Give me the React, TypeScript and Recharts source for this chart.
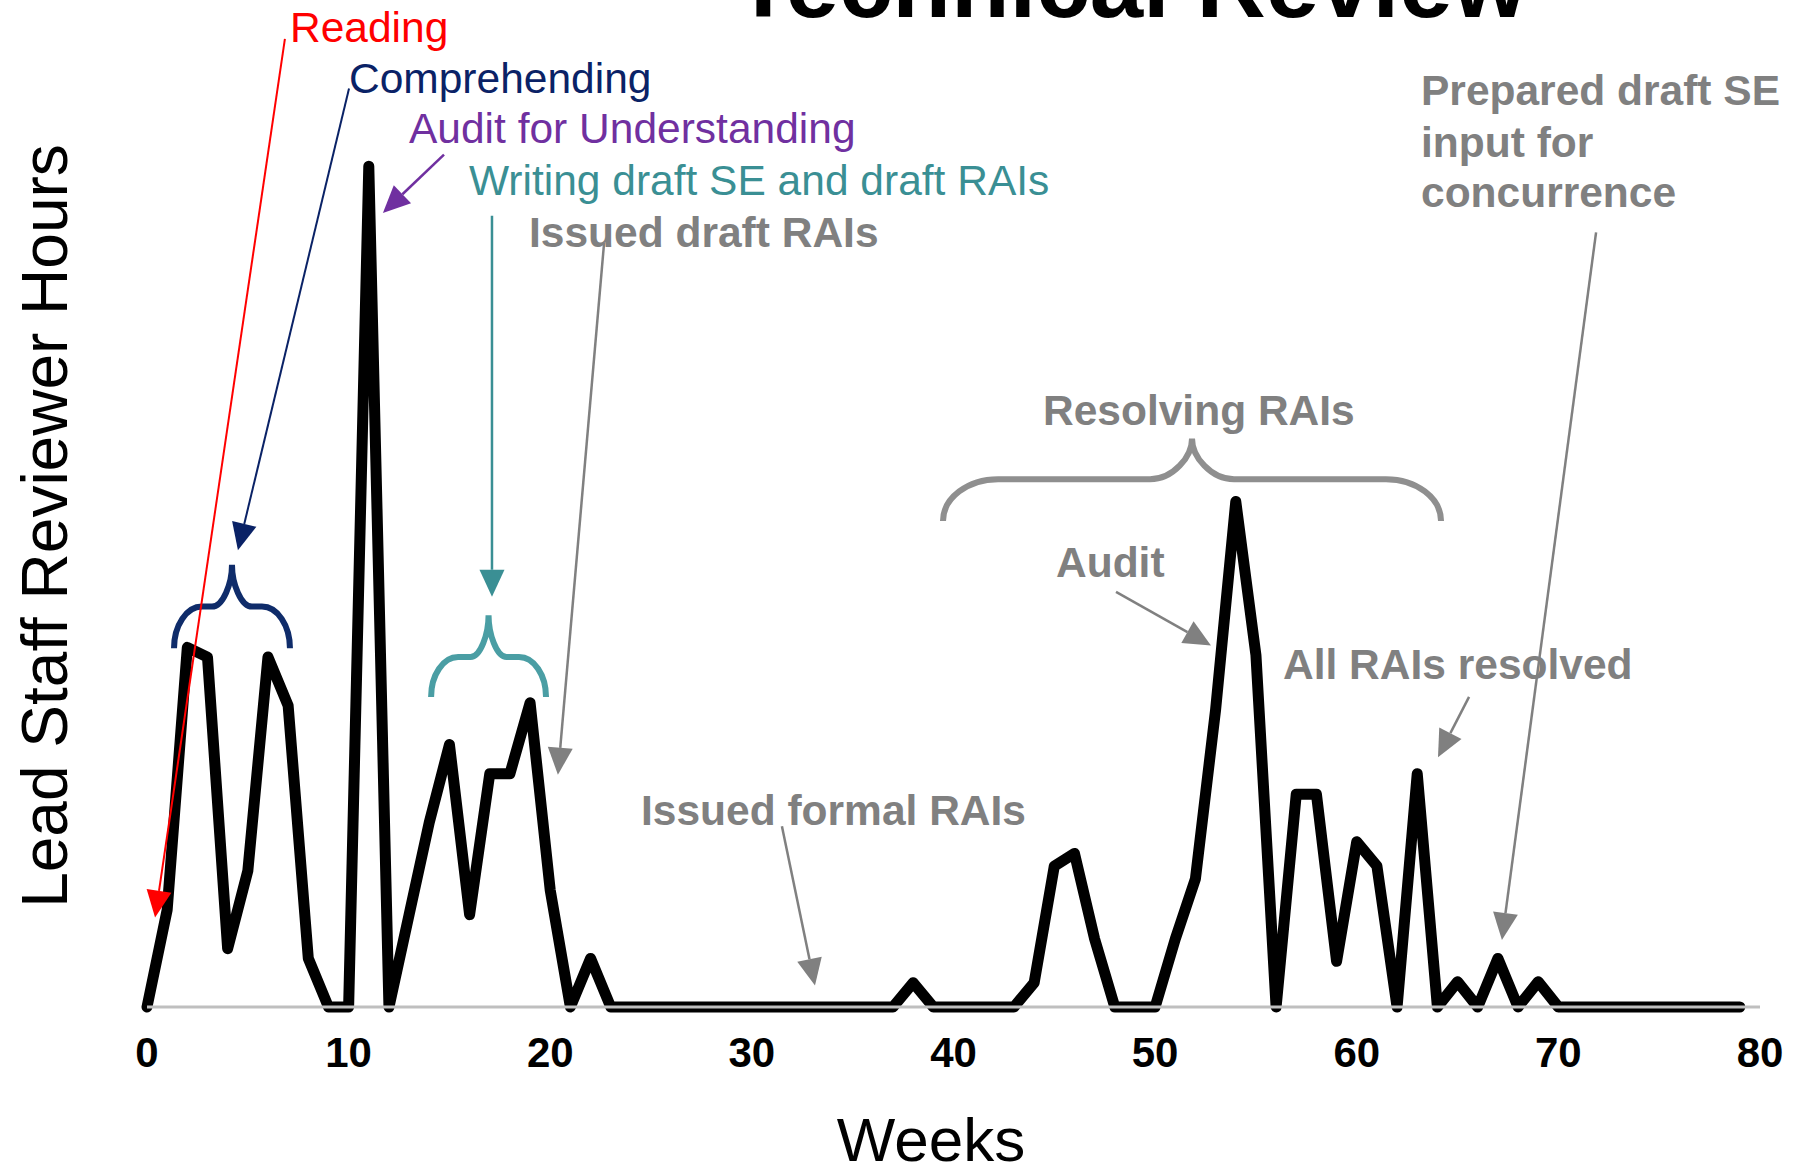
import React from "react";
import { LineChart, Line, XAxis, YAxis } from "recharts";

const weeks = [
  0, 1, 2, 3, 4, 5, 6, 7, 8, 9, 10, 11, 12, 13, 14, 15, 16, 17, 18, 19,
  20, 21, 22, 23, 24, 25, 26, 27, 28, 29, 30, 31, 32, 33, 34, 35, 36, 37, 38, 39,
  40, 41, 42, 43, 44, 45, 46, 47, 48, 49, 50, 51, 52, 53, 54, 55, 56, 57, 58, 59,
  60, 61, 62, 63, 64, 65, 66, 67, 68, 69, 70, 71, 72, 73, 74, 75, 76, 77, 78, 79,
];

const hours = [
  0, 10, 37, 36, 6, 14, 36, 31, 5, 0, 0, 86.5, 0, 9.5, 19, 27, 9.5, 24, 24, 31.3,
  12, 0, 5, 0, 0, 0, 0, 0, 0, 0, 0, 0, 0, 0, 0, 0, 0, 0, 2.5, 0,
  0, 0, 0, 0, 2.5, 14.5, 15.8, 7, 0, 0, 0, 7, 13.2, 30.6, 52, 36.2, 0, 21.9, 21.9, 4.7,
  17, 14.5, 0, 24, 0, 2.6, 0, 5, 0, 2.6, 0, 0, 0, 0, 0, 0, 0, 0, 0, 0,
];

const xTicks = [0, 10, 20, 30, 40, 50, 60, 70, 80];

const data = weeks.map((w, i) => ({ week: w, hours: hours[i] }));

// chart geometry
const W = 1804;
const H = 1171;
const M = { top: 35, right: 44, bottom: 104, left: 147 };
const X_AXIS_H = 60;
const X_MAX = 80;
const Y_MAX = 100;
const plotL = M.left;
const plotR = W - M.right;
const plotT = M.top;
const plotB = H - M.bottom - X_AXIS_H;

const FONT = "'Liberation Sans', Arial, sans-serif";
const GRAY = "#808080";

const toPx = ([w, v]: number[]) => [
  plotL + (w / X_MAX) * (plotR - plotL),
  plotB - (v / Y_MAX) * (plotB - plotT),
];

function Arrow({ from, to, color, width = 2.5 }: { from: number[]; to: number[]; color: string; width?: number }) {
  const [x1, y1] = toPx(from);
  const [x2, y2] = toPx(to);
  const len = Math.hypot(x2 - x1, y2 - y1);
  const ux = (x2 - x1) / len;
  const uy = (y2 - y1) / len;
  const head = 27;
  const half = 12.5;
  const bx = x2 - ux * head;
  const by = y2 - uy * head;
  const nx = -uy * half;
  const ny = ux * half;
  return (
    <g>
      <line x1={x1} y1={y1} x2={bx} y2={by} stroke={color} strokeWidth={width} />
      <polygon points={`${x2},${y2} ${bx + nx},${by + ny} ${bx - nx},${by - ny}`} fill={color} />
    </g>
  );
}

// curly brace, opening downwards, tip at the top
function Brace({ from, to, yEnd, yMid, yTip, rx, rt, color }: {
  from: number; to: number; yEnd: number; yMid: number; yTip: number; rx: number; rt: number; color: string;
}) {
  const [xL, yE] = toPx([from, yEnd]);
  const [xR] = toPx([to, yEnd]);
  const [, yM] = toPx([0, yMid]);
  const [, yT] = toPx([0, yTip]);
  const xc = (xL + xR) / 2;
  const k = 0.55;
  const d = [
    `M ${xL} ${yE}`,
    `C ${xL} ${yE + (yM - yE) * k} ${xL + rx * (1 - k)} ${yM} ${xL + rx} ${yM}`,
    `L ${xc - rt} ${yM}`,
    `C ${xc - rt + rt * k} ${yM} ${xc} ${yM + (yT - yM) * k} ${xc} ${yT}`,
    `C ${xc} ${yM + (yT - yM) * k} ${xc + rt - rt * k} ${yM} ${xc + rt} ${yM}`,
    `L ${xR - rx} ${yM}`,
    `C ${xR - rx * (1 - k)} ${yM} ${xR} ${yE + (yM - yE) * k} ${xR} ${yE}`,
  ].join(" ");
  return <path d={d} fill="none" stroke={color} strokeWidth={6} />;
}

const Label = ({ x, y, color, bold, children, size = 42.5 }: any) => (
  <text x={x} y={y} fill={color} fontSize={size} fontWeight={bold ? "bold" : "normal"} fontFamily={FONT}>
    {children}
  </text>
);

function Annotations() {
  return (
    <svg width={W} height={H} style={{ position: "absolute", left: 0, top: 0, pointerEvents: "none" }}>
      <text x={734} y={17} fontSize={96} fontWeight="bold" fontFamily={FONT} fill="#000">
        Technical Review
      </text>
      <text
        x={67}
        y={526}
        fontSize={64}
        fontFamily={FONT}
        fill="#000"
        textAnchor="middle"
        transform="rotate(-90 67 526)"
      >
        Lead Staff Reviewer Hours
      </text>
      <text x={931} y={1161} fontSize={62} fontFamily={FONT} fill="#000" textAnchor="middle">
        Weeks
      </text>

      <Label x={290} y={42} color="#ff0000">Reading</Label>
      <Label x={349} y={93} color="#0a2266">Comprehending</Label>
      <Label x={409} y={143} color="#7030a0">Audit for Understanding</Label>
      <Label x={469} y={195} color="#3a8f94">Writing draft SE and draft RAIs</Label>
      <Label x={529} y={247} color={GRAY} bold>Issued draft RAIs</Label>
      <Label x={1421} y={105} color={GRAY} bold>Prepared draft SE</Label>
      <Label x={1421} y={157} color={GRAY} bold>input for</Label>
      <Label x={1421} y={207} color={GRAY} bold>concurrence</Label>
      <Label x={1043} y={425} color={GRAY} bold>Resolving RAIs</Label>
      <Label x={1056} y={577} color={GRAY} bold>Audit</Label>
      <Label x={1283} y={679} color={GRAY} bold>All RAIs resolved</Label>
      <Label x={641} y={825} color={GRAY} bold>Issued formal RAIs</Label>

      <Brace from={1.34} to={7.09} yEnd={36.9} yMid={41.2} yTip={45.5} rx={28} rt={20} color="#0f2c6a" />
      <Brace from={14.09} to={19.79} yEnd={31.9} yMid={36.0} yTip={40.3} rx={27} rt={18} color="#4a9ea4" />
      <Brace from={39.48} to={64.18} yEnd={50.0} yMid={54.3} yTip={58.5} rx={55} rt={42} color="#8f8f8f" />

      <Arrow from={[6.84, 99.6]} to={[0.4, 9.2]} color="#ff0000" width={2} />
      <Arrow from={[10.02, 94.5]} to={[4.51, 47.0]} color="#0a2266" width={2} />
      <Arrow from={[14.73, 87.7]} to={[11.7, 81.7]} color="#7030a0" />
      <Arrow from={[17.11, 81.4]} to={[17.11, 42.2]} color="#3a8f94" />
      <Arrow from={[22.67, 78.6]} to={[20.38, 23.9]} color={GRAY} />
      <Arrow from={[31.49, 18.6]} to={[33.13, 2.2]} color={GRAY} />
      <Arrow from={[48.06, 42.7]} to={[52.77, 37.2]} color={GRAY} />
      <Arrow from={[65.57, 31.9]} to={[64.03, 25.7]} color={GRAY} />
      <Arrow from={[71.87, 79.7]} to={[67.2, 6.9]} color={GRAY} />
    </svg>
  );
}

export default function App() {
  return (
    <div style={{ position: "absolute", left: 0, top: 0, width: W, height: H, background: "#fff", overflow: "hidden" }}>
      <LineChart width={W} height={H} data={data} margin={M}>
        <XAxis
          dataKey="week"
          type="number"
          domain={[0, X_MAX]}
          ticks={xTicks}
          height={X_AXIS_H}
          axisLine={{ stroke: "#bfbfbf", strokeWidth: 3 }}
          tickLine={false}
          tickSize={0}
          tickMargin={30}
          tick={{ fill: "#000", fontSize: 42, fontWeight: "bold", fontFamily: FONT }}
        />
        <YAxis
          type="number"
          domain={[0, Y_MAX]}
          width={0}
          tick={false}
          tickLine={false}
          axisLine={{ stroke: "#bfbfbf", strokeWidth: 3 }}
        />
        <Line
          type="linear"
          dataKey="hours"
          stroke="#000"
          strokeWidth={11}
          strokeLinejoin="round"
          strokeLinecap="round"
          dot={false}
          isAnimationActive={false}
        />
      </LineChart>
      <Annotations />
    </div>
  );
}
